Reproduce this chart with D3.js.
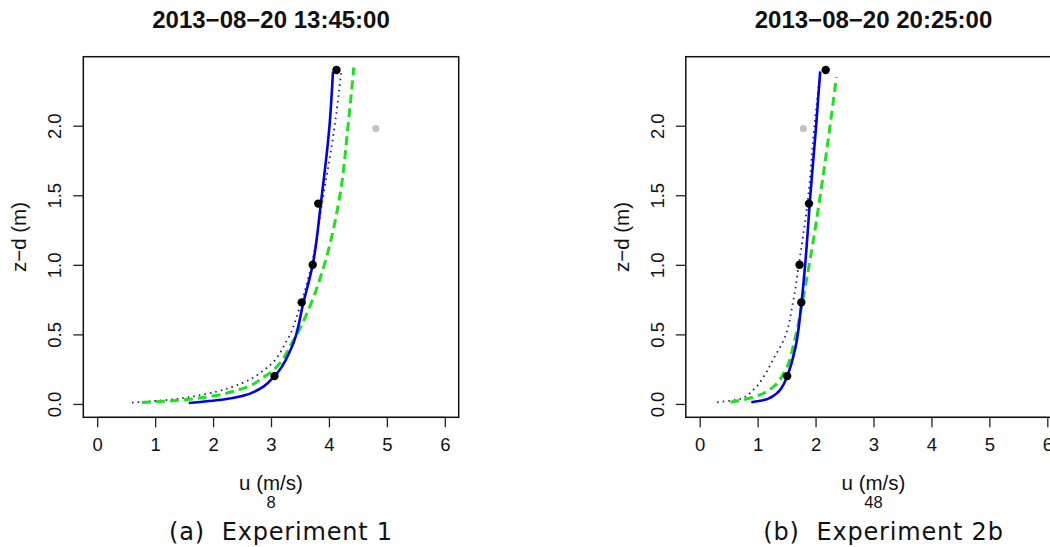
<!DOCTYPE html>
<html>
<head>
<meta charset="utf-8">
<script src="https://cdn.jsdelivr.net/npm/d3@7"></script>
<style>
  body { margin: 0; background: #fff; }
  svg { display: block; }
  text { font-family: "Liberation Sans", Arial, Helvetica, sans-serif; fill: #111; }
  .caption { font-family: "DejaVu Sans", Verdana, sans-serif; letter-spacing: 0.8px; }
</style>
</head>
<body>
<script>
// observed wind speeds at the mast heights (z-d, m)
var obsHeights = [0.20, 0.73, 1.00, 1.44, 2.40];
var obsU1 = [3.06, 3.53, 3.72, 3.815, 4.13];
var obsU2 = [1.51, 1.754, 1.724, 1.886, 2.175];
// the excluded (grey) sample
var greyU = [4.81, 1.79];
var greyZ = [1.98, 1.98];

// fitted profiles
var fitZ1 = [0.007, 0.03, 0.06, 0.1, 0.2, 0.4, 0.73, 1.0, 1.44, 2.0, 2.39];
var fitU1 = [1.58, 2.15, 2.53, 2.77, 3.06, 3.35, 3.56, 3.72, 3.86, 4.01, 4.07];
var dashZ1 = [0.01, 0.019, 0.036, 0.05, 0.1, 0.2, 0.46, 0.7, 1.0, 1.5, 2.0, 2.42];
var dashU1 = [0.77, 1.15, 1.64, 1.90, 2.43, 2.90, 3.39, 3.67, 3.92, 4.19, 4.33, 4.43];
var dotZ1 = [0.01, 0.03, 0.055, 0.09, 0.15, 0.25, 0.46, 0.7, 1.0, 1.44, 2.0, 2.38];
var dotU1 = [0.60, 1.25, 1.66, 2.07, 2.50, 2.90, 3.28, 3.50, 3.70, 3.88, 4.10, 4.21];

var fitZ2 = [0.012, 0.03, 0.05, 0.08, 0.12, 0.2, 0.4, 0.7, 1.0, 1.5, 2.0, 2.39];
var fitU2 = [0.89, 1.13, 1.24, 1.34, 1.42, 1.51, 1.65, 1.75, 1.82, 1.91, 2.01, 2.08];
var dashZ2 = [0.012, 0.031, 0.067, 0.126, 0.22, 0.46, 0.73, 1.0, 1.44, 2.0, 2.35];
var dashU2 = [0.53, 0.76, 1.05, 1.28, 1.45, 1.64, 1.77, 1.89, 2.06, 2.25, 2.36];
var dotZ2 = [0.012, 0.036, 0.103, 0.2, 0.33, 0.46, 0.73, 1.0, 1.44, 2.0, 2.38];
var dotU2 = [0.30, 0.70, 0.93, 1.11, 1.28, 1.45, 1.61, 1.71, 1.86, 1.98, 2.08];

var titles = ["2013\u221208\u221220 13:45:00", "2013\u221208\u221220 20:25:00"];
var runNumbers = ["8", "48"];
var captions = ["(a)\u00a0\u00a0Experiment 1", "(b)\u00a0\u00a0Experiment 2b"];
var xTicks = [0, 1, 2, 3, 4, 5, 6];
var yTicks = [0, 0.5, 1, 1.5, 2];

var W = 1050, H = 547;
var svg = d3.select("body").append("svg")
    .attr("width", W).attr("height", H);
svg.append("rect").attr("width", W).attr("height", H).attr("fill", "#fff");

// plot box of each panel (R style, 4% padding on the ranges)
var boxW = 375.4, boxTop = 56.7, boxBottom = 417.3;
var boxLefts = [83.3, 685.8];

function zip(us, zs) {
  return us.map(function(u, i) { return [u, zs[i]]; });
}

var panels = [
  {fit: zip(fitU1, fitZ1), dash: zip(dashU1, dashZ1), dot: zip(dotU1, dotZ1), obs: obsU1},
  {fit: zip(fitU2, fitZ2), dash: zip(dashU2, dashZ2), dot: zip(dotU2, dotZ2), obs: obsU2}
];

panels.forEach(function(p, k) {
  var left = boxLefts[k];
  var x = d3.scaleLinear().domain([-0.24, 6.24]).range([left, left + boxW]);
  var y = d3.scaleLinear().domain([-0.096, 2.496]).range([boxBottom, boxTop]);
  var g = svg.append("g");
  var cx = left + boxW / 2;

  // title
  g.append("text")
    .attr("x", cx).attr("y", 28)
    .attr("text-anchor", "middle")
    .style("font-weight", "bold").style("font-size", "24px")
    .text(titles[k]);

  // axes
  var xAxis = d3.axisBottom(x).tickValues(xTicks).tickSize(10).tickPadding(6)
      .tickFormat(d3.format("d"));
  var gx = g.append("g").attr("transform", "translate(0," + boxBottom + ")").call(xAxis);
  gx.select(".domain").attr("d", "M" + x(0) + ",0H" + x(6)).attr("stroke", "#222");
  gx.selectAll(".tick line").attr("stroke", "#222").attr("stroke-width", 1.3);
  gx.selectAll("text").style("font-size", "18.5px").attr("fill", "#111")
    .attr("font-family", null).attr("y", 21);

  var yAxis = d3.axisLeft(y).tickValues(yTicks).tickSize(10).tickFormat(d3.format(".1f"));
  var gy = g.append("g").attr("transform", "translate(" + left + ",0)").call(yAxis);
  gy.select(".domain").remove();
  gy.selectAll(".tick line").attr("stroke", "#222").attr("stroke-width", 1.3);
  gy.selectAll("text").style("font-size", "18.5px").attr("fill", "#111")
    .attr("font-family", null)
    .attr("x", null).attr("dy", null)
    .attr("text-anchor", "middle")
    .attr("transform", "translate(-22,0) rotate(-90)");

  // box
  g.append("rect")
    .attr("x", left).attr("y", boxTop)
    .attr("width", boxW).attr("height", boxBottom - boxTop)
    .attr("fill", "none").attr("stroke", "#111").attr("stroke-width", 1.5);

  // axis labels
  g.append("text")
    .attr("transform", "translate(" + (left - 57) + "," + ((boxTop + boxBottom) / 2) + ") rotate(-90)")
    .attr("text-anchor", "middle").style("font-size", "20.5px")
    .text("z\u2212d (m)");
  g.append("text")
    .attr("x", cx).attr("y", 490)
    .attr("text-anchor", "middle").style("font-size", "20.5px")
    .text("u (m/s)");
  g.append("text")
    .attr("x", cx).attr("y", 508)
    .attr("text-anchor", "middle").style("font-size", "16.5px")
    .text(runNumbers[k]);

  // caption below the panel
  g.append("text").attr("class", "caption")
    .attr("x", cx + 10).attr("y", 540)
    .attr("text-anchor", "middle").style("font-size", "24px")
    .text(captions[k]);

  var line = d3.line()
    .x(function(d) { return x(d[0]); })
    .y(function(d) { return y(d[1]); })
    .curve(d3.curveMonotoneY);

  g.append("path").attr("d", line(p.dot))
    .attr("fill", "none").attr("stroke", "#26266e")
    .attr("stroke-width", 1.8).attr("stroke-dasharray", "1.6,4");
  g.append("path").attr("d", line(p.dash))
    .attr("fill", "none").attr("stroke", "#1fe01f")
    .attr("stroke-width", 3).attr("stroke-dasharray", "9,5");
  g.append("path").attr("d", line(p.fit))
    .attr("fill", "none").attr("stroke", "#0000ee")
    .attr("stroke-width", 2.6);

  // points
  g.append("circle")
    .attr("cx", x(greyU[k])).attr("cy", y(greyZ[k])).attr("r", 3.6)
    .attr("fill", "#c2c2c2");
  g.selectAll(".obs").data(p.obs).enter().append("circle")
    .attr("class", "obs")
    .attr("cx", function(d) { return x(d); })
    .attr("cy", function(d, i) { return y(obsHeights[i]); })
    .attr("r", 4.2).attr("fill", "#000");
});
</script>
</body>
</html>
